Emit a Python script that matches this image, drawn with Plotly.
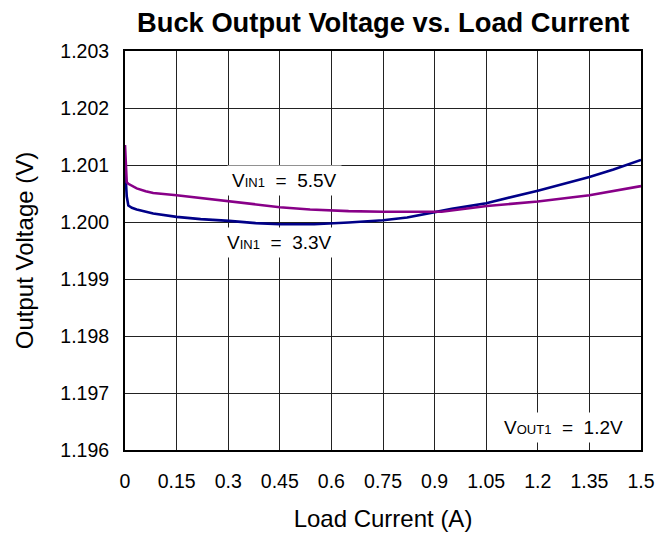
import plotly.graph_objects as go

# Load current (A) and output voltage (V)
i_33 = [0.0, 0.002, 0.005, 0.0097, 0.02, 0.034, 0.06, 0.082, 0.15, 0.22, 0.303, 0.38, 0.45, 0.509, 0.55, 0.65, 0.75, 0.82, 0.9, 0.95, 1.05, 1.2, 1.35, 1.42, 1.5]
v_33 = [1.2010, 1.2007, 1.20045, 1.20029, 1.20025, 1.20022, 1.20018, 1.20015, 1.20009, 1.20005, 1.20002, 1.19998, 1.19996, 1.19996, 1.19996, 1.19999, 1.20003, 1.20008, 1.20018, 1.20023, 1.20033, 1.20055, 1.20079, 1.20092, 1.20109]

i_55 = [0.0, 0.002, 0.005, 0.0097, 0.02, 0.034, 0.06, 0.082, 0.15, 0.22, 0.303, 0.38, 0.45, 0.538, 0.65, 0.75, 0.85, 0.92, 1.052, 1.2, 1.35, 1.5]
v_55 = [1.20135, 1.2009, 1.2007, 1.20067, 1.20063, 1.20059, 1.20054, 1.20051, 1.20047, 1.20042, 1.20036, 1.20031, 1.20026, 1.20022, 1.20019, 1.20018, 1.20018, 1.20018, 1.20028, 1.20036, 1.20047, 1.20063]

x_ticks = [0, 0.15, 0.3, 0.45, 0.6, 0.75, 0.9, 1.05, 1.2, 1.35, 1.5]
x_labels = ["0", "0.15", "0.3", "0.45", "0.6", "0.75", "0.9", "1.05", "1.2", "1.35", "1.5"]
y_ticks = [1.196, 1.197, 1.198, 1.199, 1.200, 1.201, 1.202, 1.203]
y_labels = ["1.196", "1.197", "1.198", "1.199", "1.200", "1.201", "1.202", "1.203"]

FONT = "Liberation Sans, Arial, sans-serif"

fig = go.Figure()
fig.add_trace(go.Scatter(x=i_33, y=v_33, mode="lines", name="VIN1 = 3.3V",
                         line=dict(color="#000088", width=2.6)))
fig.add_trace(go.Scatter(x=i_55, y=v_55, mode="lines", name="VIN1 = 5.5V",
                         line=dict(color="#880088", width=2.6)))

sub = '<span style="font-size:13px">{}</span>'
ann_font = dict(size=19, color="black", family=FONT)
fig.add_annotation(x=0.465, y=1.20073, text="V" + sub.format("IN1") + "&nbsp; = &nbsp;5.5V",
                   showarrow=False, bgcolor="white", borderpad=4, font=ann_font)
fig.add_annotation(x=0.45, y=1.19964, text="V" + sub.format("IN1") + "&nbsp; = &nbsp;3.3V",
                   showarrow=False, bgcolor="white", borderpad=4, font=ann_font)
fig.add_annotation(x=1.276, y=1.19639, text="V" + sub.format("OUT1") + "&nbsp; = &nbsp;1.2V",
                   showarrow=False, bgcolor="white", borderpad=4, font=ann_font)

fig.update_layout(
    width=663, height=528,
    margin=dict(l=117, r=30, t=43, b=86),
    paper_bgcolor="white", plot_bgcolor="white",
    showlegend=False,
    font=dict(family=FONT, size=19.5, color="black"),
    title=dict(text="<b>Buck Output Voltage vs. Load Current</b>", x=0.566, xanchor="center",
               y=0.972, yanchor="middle", font=dict(size=27.3, family=FONT, color="black")),
)
fig.update_xaxes(range=[0, 1.5], tickvals=x_ticks, ticktext=x_labels,
                 showgrid=True, gridcolor="#222222", gridwidth=1,
                 showline=True, linecolor="black", linewidth=2, mirror=True,
                 ticks="", zeroline=False, ticklabelstandoff=13, automargin=False,
                 title=dict(text="Load Current (A)", font=dict(size=24), standoff=19),
                 tickfont=dict(size=19.5))
fig.update_yaxes(range=[1.196, 1.203], tickvals=y_ticks, ticktext=y_labels,
                 showgrid=True, gridcolor="#222222", gridwidth=1,
                 showline=True, linecolor="black", linewidth=2, mirror=True,
                 ticks="", zeroline=False, ticklabelstandoff=10, automargin=False,
                 title=dict(text="Output Voltage (V)", font=dict(size=24), standoff=20),
                 tickfont=dict(size=19.5))

fig.write_html("out.html")
